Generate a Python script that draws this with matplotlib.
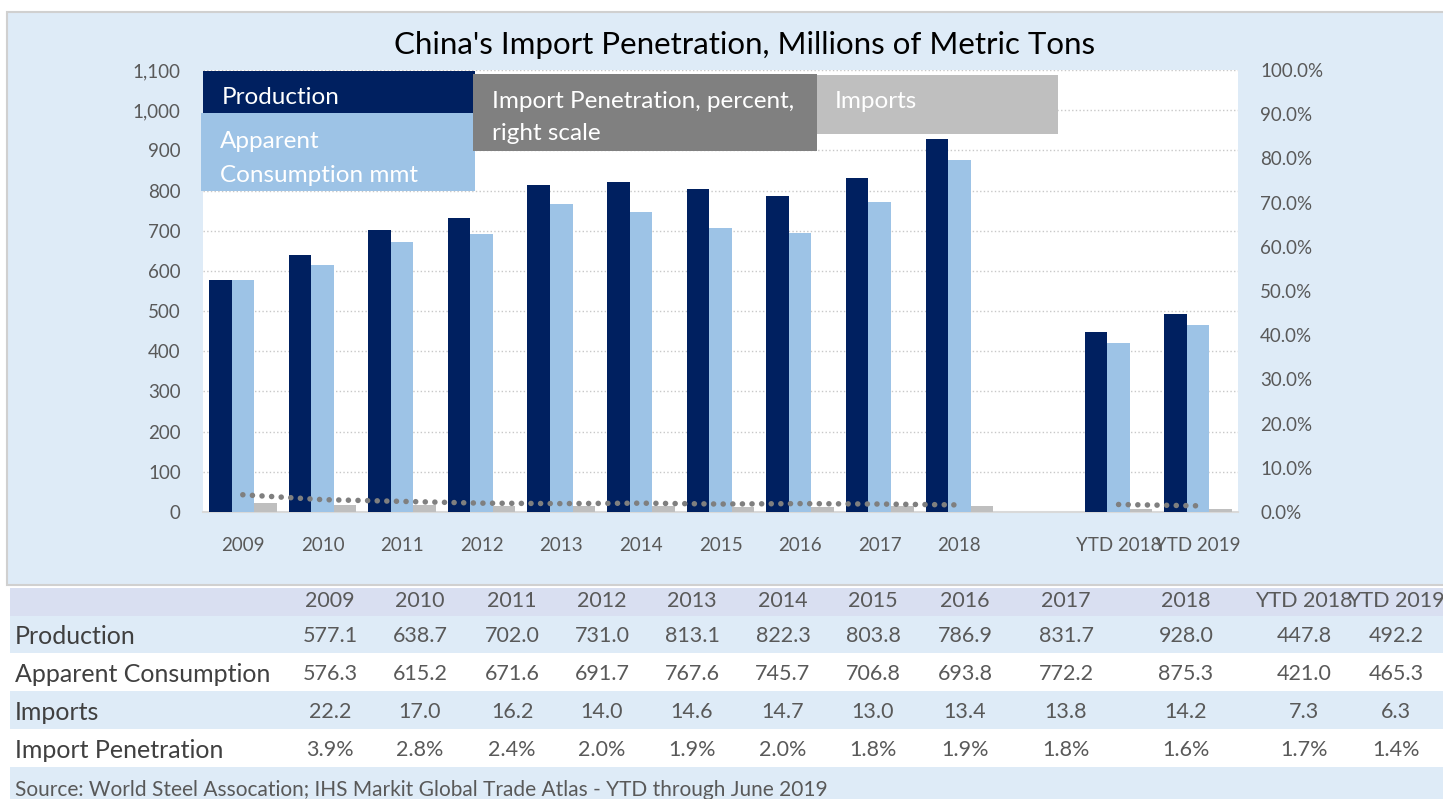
import numpy as np
import matplotlib.pyplot as plt
from matplotlib.patches import Rectangle

plt.rcParams['font.family'] = ['Lato', 'DejaVu Sans']

# chart categories (blank slot between 2018 and the YTD pair)
categories = ['2009', '2010', '2011', '2012', '2013', '2014', '2015', '2016',
              '2017', '2018', '', 'YTD 2018', 'YTD 2019']
production = [577.1, 638.7, 702.0, 731.0, 813.1, 822.3, 803.8, 786.9, 831.7, 928.0, np.nan, 447.8, 492.2]
consumption = [576.3, 615.2, 671.6, 691.7, 767.6, 745.7, 706.8, 693.8, 772.2, 875.3, np.nan, 421.0, 465.3]
imports = [22.2, 17.0, 16.2, 14.0, 14.6, 14.7, 13.0, 13.4, 13.8, 14.2, np.nan, 7.3, 6.3]
penetration = [3.9, 2.8, 2.4, 2.0, 1.9, 2.0, 1.8, 1.9, 1.8, 1.6, np.nan, 1.7, 1.4]

# table
table_cols = ['2009', '2010', '2011', '2012', '2013', '2014', '2015', '2016',
              '2017', '2018', 'YTD 2018', 'YTD 2019']
row_names = ['Production', 'Apparent Consumption', 'Imports', 'Import Penetration']
row_prod = ['577.1', '638.7', '702.0', '731.0', '813.1', '822.3', '803.8', '786.9', '831.7', '928.0', '447.8', '492.2']
row_cons = ['576.3', '615.2', '671.6', '691.7', '767.6', '745.7', '706.8', '693.8', '772.2', '875.3', '421.0', '465.3']
row_imp = ['22.2', '17.0', '16.2', '14.0', '14.6', '14.7', '13.0', '13.4', '13.8', '14.2', '7.3', '6.3']
row_pen = ['3.9%', '2.8%', '2.4%', '2.0%', '1.9%', '2.0%', '1.8%', '1.9%', '1.8%', '1.6%', '1.7%', '1.4%']

NAVY = '#002060'
LBLUE = '#9DC3E6'
GRAY = '#BFBFBF'
DOT = '#7F7F7F'
BG = '#DEEBF7'

W, H = 1443, 799
fig = plt.figure(figsize=(W / 100, H / 100), dpi=100)
fig.patch.set_facecolor('white')


def fx(x):
    return x / W


def fy(y):
    return 1 - y / H


def box(x0, y0, x1, y1, color, z, ec='none', lw=0):
    fig.patches.append(Rectangle((fx(x0), fy(y1)), fx(x1) - fx(x0), fy(y0) - fy(y1),
                                 transform=fig.transFigure, facecolor=color,
                                 edgecolor=ec, linewidth=lw, zorder=z))


# outer chart panel
box(7, 12, 1450, 585, BG, -2, ec='#D0D0D0', lw=1.5)

ax = fig.add_axes([fx(203), fy(512), fx(1238) - fx(203), fy(70) - fy(512)])
ax.set_facecolor('white')
x = np.arange(len(categories))
bw = 0.283
ax.bar(x - bw, production, bw, color=NAVY, zorder=3)
ax.bar(x, consumption, bw, color=LBLUE, zorder=3)
ax.bar(x + bw, imports, bw, color=GRAY, zorder=3)
ax.set_xlim(-0.5, len(categories) - 0.5)
ax.set_ylim(0, 1100)
ax.set_yticks(np.arange(0, 1101, 100))
ax.set_yticklabels([f'{v:,}' for v in range(0, 1101, 100)])
ax.set_xticks(x)
ax.set_xticklabels(categories)
ax.grid(axis='y', linestyle=':', color='#C8C8C8', linewidth=1, zorder=0)
for s in ['top', 'left', 'right']:
    ax.spines[s].set_visible(False)
ax.spines['bottom'].set_color('#D9D9D9')
ax.spines['bottom'].set_linewidth(1.5)
ax.tick_params(axis='both', length=0, colors='#595959', labelsize=13.5)
ax.tick_params(axis='y', pad=16)
ax.tick_params(axis='x', pad=18)

ax2 = ax.twinx()
ax2.plot(x, penetration, color=DOT, linewidth=4, linestyle=(0, (0.01, 1.72)),
         dash_capstyle='round', zorder=4)
ax2.set_ylim(0, 100)
ax2.set_yticks(np.arange(0, 101, 10))
ax2.set_yticklabels([f'{v:.1f}%' for v in range(0, 101, 10)])
for s in ['top', 'left', 'right', 'bottom']:
    ax2.spines[s].set_visible(False)
ax2.tick_params(axis='y', length=0, colors='#595959', labelsize=13.5, pad=16)

# legend boxes
box(203, 71, 475, 113, NAVY, 5)
box(201, 113, 475, 191, LBLUE, 5)
box(473, 74, 817, 151, '#808080', 5)
box(817, 75, 1058, 134, GRAY, 5)
lkw = dict(color='white', fontsize=17.5, va='center', ha='left', zorder=6)
fig.text(fx(222), fy(97), 'Production', **lkw)
fig.text(fx(220), fy(141), 'Apparent', **lkw)
fig.text(fx(220), fy(176), 'Consumption mmt', **lkw)
fig.text(fx(492), fy(101), 'Import Penetration, percent,', **lkw)
fig.text(fx(492), fy(134), 'right scale', **lkw)
fig.text(fx(835), fy(102), 'Imports', **lkw)

fig.text(fx(745), fy(45), "China's Import Penetration, Millions of Metric Tons",
         fontsize=22.5, ha='center', va='center', color='black')

# table below the chart
box(10, 588, 1450, 616, '#D9DFF1', -2)
box(10, 616, 1450, 653, BG, -2)
box(10, 653, 1450, 691, 'white', -2)
box(10, 691, 1450, 729, BG, -2)
box(10, 729, 1450, 767, 'white', -2)
box(10, 767, 1450, 805, BG, -2)

col_x = [330, 420, 512, 602, 692, 783, 873, 965, 1066, 1186, 1304, 1396]
row_y = [636, 674, 712, 750]
tkw = dict(fontsize=15.5, va='center', ha='center', color='#595959')
for cx, lab in zip(col_x, table_cols):
    fig.text(fx(cx), fy(601), lab, **tkw)
for ry, name, vals in zip(row_y, row_names, [row_prod, row_cons, row_imp, row_pen]):
    fig.text(fx(15), fy(ry), name, fontsize=18, va='center', ha='left', color='#404040')
    for cx, v in zip(col_x, vals):
        fig.text(fx(cx), fy(ry), v, **tkw)

fig.text(fx(15), fy(790), 'Source: World Steel Assocation; IHS Markit Global Trade Atlas - YTD through June 2019',
         fontsize=15, va='center', ha='left', color='#595959')

fig.savefig('out.png', dpi=100)
